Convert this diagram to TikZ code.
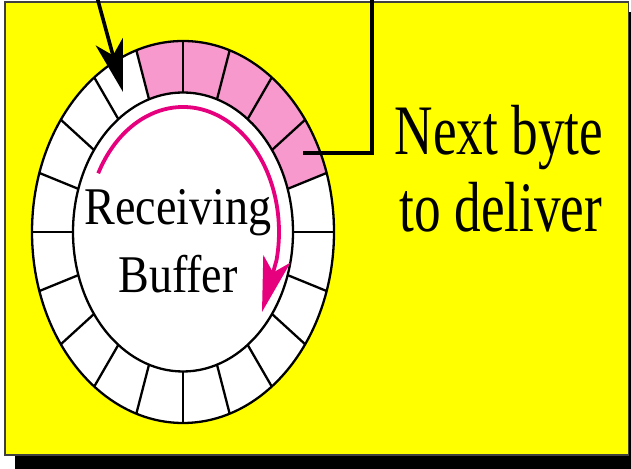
\documentclass[tikz,border=0pt]{standalone}
\usepackage{graphicx}
\usepackage{fontspec}
\setmainfont{Liberation Serif}
\usetikzlibrary{arrows.meta,calc}
\definecolor{bgyellow}{RGB}{255,255,0}
\definecolor{segpink}{RGB}{247,153,204}
\definecolor{arcmag}{RGB}{230,0,126}
\begin{document}
\begin{tikzpicture}[x=1bp,y=1bp,
  ring/.style={draw=black, line width=2.3bp},
  bufferlbl/.style={inner sep=0pt, anchor=base, font=\fontsize{53bp}{60bp}\selectfont},
  sidelbl/.style={inner sep=0pt, anchor=base, font=\fontsize{71bp}{77bp}\selectfont},
  pointer/.style={draw=black, line width=3.6bp},
  bigtip/.style={-{Stealth[length=#1,width=28bp,inset=14bp]}}]
\useasboundingbox (0,0) rectangle (631,469);
\clip (0,0) rectangle (631,469);
% shadow and panel
\fill[black] (15,0) rectangle (645,457);
\draw[draw=black!75, line width=1.5bp, fill=bgyellow] (5,14) rectangle (628.5,467);
% ring buffer
\coordinate (C) at (183,237);
\fill[white] (C) ellipse [x radius=151, y radius=191];
\foreach \a in {18,36,54,72,90}{
  \fill[segpink] ([shift={(\a:151 and 191)}]C)
    arc[start angle=\a, end angle=\a+18, x radius=151, y radius=191]
    -- ([shift={(\a+18:110 and 139.5)}]C)
    arc[start angle=\a+18, end angle=\a, x radius=110, y radius=139.5] -- cycle;
}
\draw[ring, fill=white] (C) ellipse [x radius=110, y radius=139.5];
\draw[ring] (C) ellipse [x radius=151, y radius=191];
\foreach \a in {0,18,...,342}{
  \draw[ring] ([shift={(\a:110 and 139.5)}]C) -- ([shift={(\a:151 and 191)}]C);
}
% magenta direction arrow
\coordinate (arcstart) at ($(C)+(152:96 and 125)$);
\coordinate (arctip) at (262,157);
\draw[arcmag, line width=3.8bp, bigtip=55bp] (arcstart)
  arc[start angle=152, end angle=-13, x radius=96, y radius=125] -- (arctip);
% labels
\node[bufferlbl] (recv) at (178,244) {\scalebox{0.87}[1]{Receiving}};
\node[bufferlbl] (buf) at (178,176) {\scalebox{0.87}[1]{Buffer}};
\node[sidelbl] (nb1) at (499,314) {\scalebox{0.75}[1]{Next byte}};
\node[sidelbl] (nb2) at (501,237) {\scalebox{0.75}[1]{to deliver}};
% black pointer into buffer
\coordinate (ptrtop) at (97,472);
\coordinate (ptrtip) at (123,377);
\draw[pointer, bigtip=52bp] (ptrtop) -- (ptrtip);
% next byte pointer
\coordinate (nbin) at (303,316);
\coordinate (nbcorner) at (372,316);
\coordinate (nbtop) at (372,472);
\draw[pointer] (nbin) -- (nbcorner) -- (nbtop);
\end{tikzpicture}
\end{document}
